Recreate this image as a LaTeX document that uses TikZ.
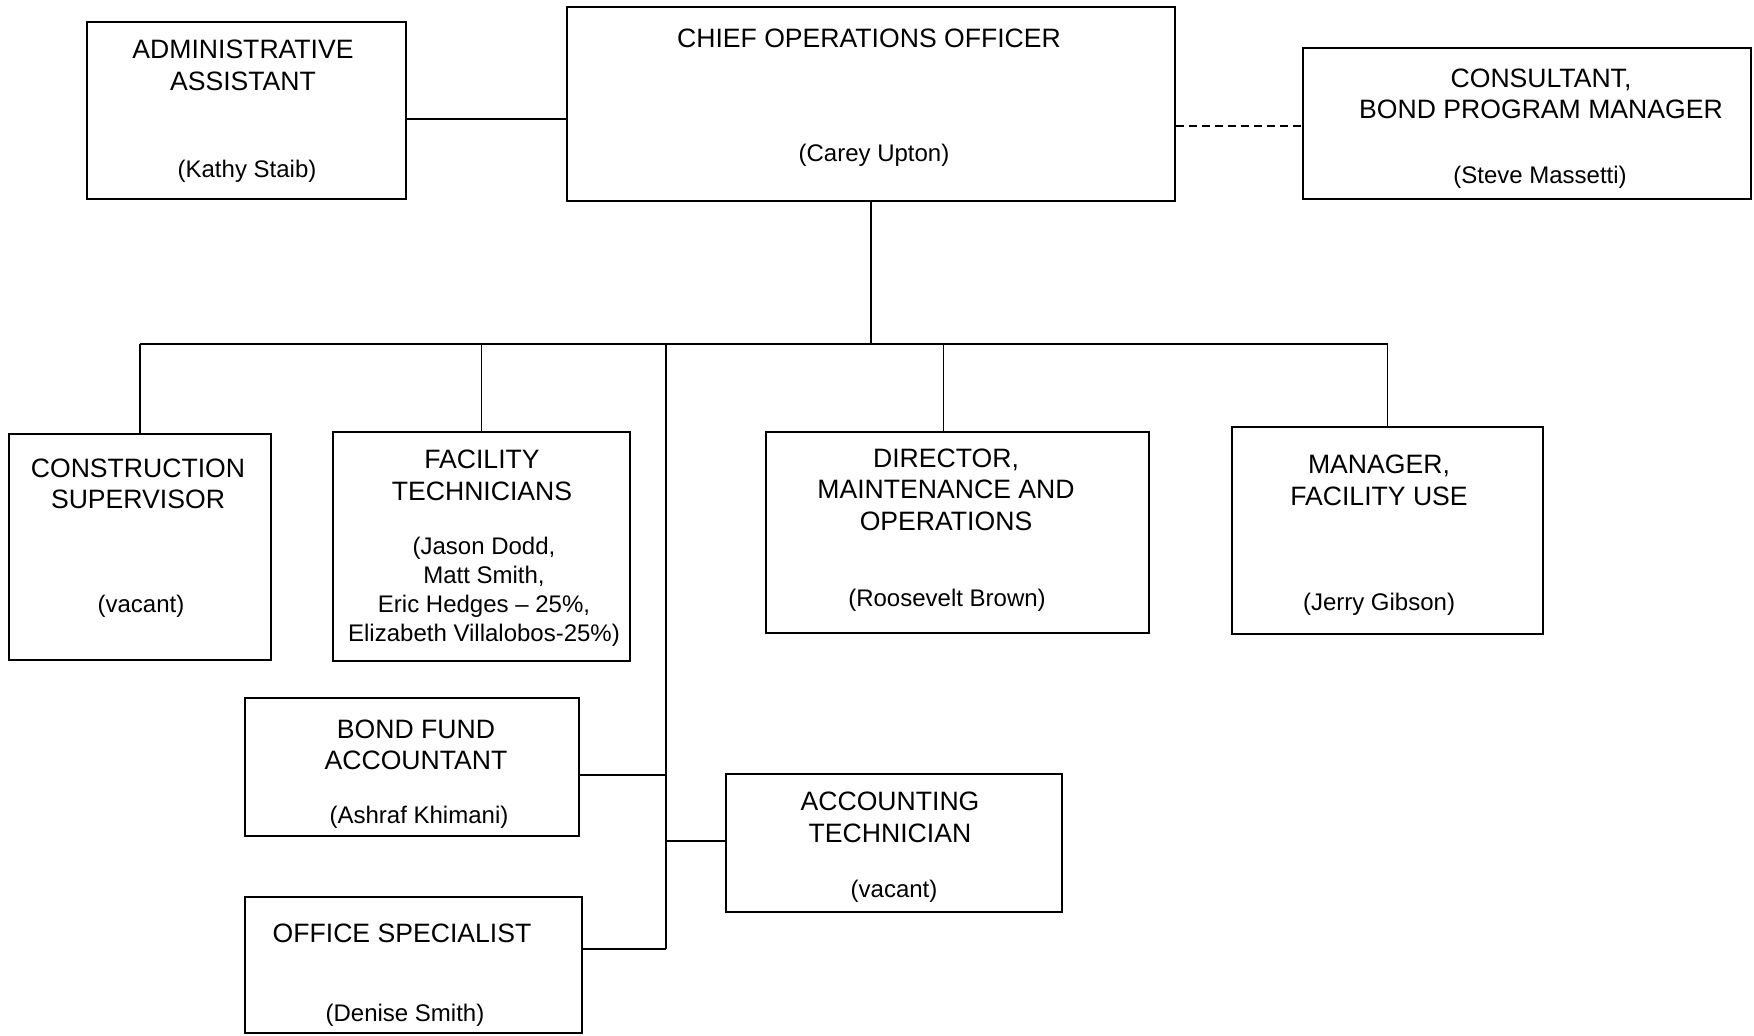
\documentclass[tikz,border=0pt]{standalone}
\usepackage{fontspec}
\setmainfont{Liberation Sans}
\usetikzlibrary{calc}

\begin{document}
\begin{tikzpicture}[x=0.5pt, y=-0.5pt,
  unit/.style={draw, line width=1pt, inner sep=0pt},
  title/.style={align=center, font=\fontsize{13.3}{15.75}\selectfont, inner sep=0pt},
  who/.style={align=center, font=\fontsize{12}{14.5}\selectfont, inner sep=0pt},
  link/.style={line width=0.8pt}]
  \useasboundingbox (0,0) rectangle (1754,1035);

  \node[unit, minimum width=159.5pt, minimum height=88.5pt] (admin) at (246.5,110.5) {};
  \node[title] (admin-t) at (243,65.5) {ADMINISTRATIVE\\ASSISTANT};
  \node[who] (admin-n) at (247,171) {(Kathy Staib)};

  \node[unit, minimum width=304pt, minimum height=97pt] (coo) at (871,104) {};
  \node[title] (coo-t) at (869,38) {CHIEF OPERATIONS OFFICER};
  \node[who] (coo-n) at (874,155) {(Carey Upton)};

  \node[unit, minimum width=224pt, minimum height=75.5pt] (bpm) at (1527,123.5) {};
  \node[title] (bpm-t) at (1541,94) {CONSULTANT,\\BOND PROGRAM MANAGER};
  \node[who] (bpm-n) at (1540,177) {(Steve Massetti)};

  \node[unit, minimum width=131pt, minimum height=113pt] (csup) at (140,547) {};
  \node[title] (csup-t) at (138,484) {CONSTRUCTION\\SUPERVISOR};
  \node[who] (csup-n) at (141,606) {(vacant)};

  \node[unit, minimum width=148.5pt, minimum height=114.5pt] (ftech) at (481.5,546.5) {};
  \node[title] (ftech-t) at (482,475.5) {FACILITY\\TECHNICIANS};
  \node[who] (ftech-n) at (484,591.5) {(Jason Dodd,\\Matt Smith,\\Eric Hedges -- 25\%,\\Elizabeth Villalobos-25\%)};

  \node[unit, minimum width=191.5pt, minimum height=100.5pt] (dmo) at (957.5,532.5) {};
  \node[title] (dmo-t) at (946,489.5) {DIRECTOR,\\MAINTENANCE AND\\OPERATIONS};
  \node[who] (dmo-n) at (947,600) {(Roosevelt Brown)};

  \node[unit, minimum width=155.5pt, minimum height=103.5pt] (mfu) at (1387.5,530.5) {};
  \node[title] (mfu-t) at (1379,480.5) {MANAGER,\\FACILITY USE};
  \node[who] (mfu-n) at (1379,604) {(Jerry Gibson)};

  \node[unit, minimum width=167pt, minimum height=69pt] (bfa) at (412,767) {};
  \node[title] (bfa-t) at (416,745) {BOND FUND\\ACCOUNTANT};
  \node[who] (bfa-n) at (419,817) {(Ashraf Khimani)};

  \node[unit, minimum width=168pt, minimum height=69pt] (atech) at (894,843) {};
  \node[title] (atech-t) at (890,817.5) {ACCOUNTING\\TECHNICIAN};
  \node[who] (atech-n) at (894,891) {(vacant)};

  \node[unit, minimum width=168.5pt, minimum height=68pt] (ospec) at (413.5,965) {};
  \node[title] (ospec-t) at (402,933) {OFFICE SPECIALIST};
  \node[who] (ospec-n) at (405,1015) {(Denise Smith)};

  \coordinate (al) at ($(admin.east)+(0,8.5)$);
  \draw[link] (al) -- (al -| coo.west);
  \coordinate (dl) at ($(bpm.west)+(0,2)$);
  \draw[link, line width=1pt, dash pattern=on 4pt off 2.5pt] (dl -| coo.east) -- (dl);

  \coordinate (bus) at ($(coo.south)+(0,142)$);
  \draw[link] (coo.south) -- (bus);
  \draw[link] (bus -| csup.north) -- (bus -| mfu.north);
  \draw[link] (bus -| csup.north) -- (csup.north);
  \draw[link] (bus -| ftech.north) -- (ftech.north);
  \coordinate (dtop) at ($(dmo.north)+(-14,0)$);
  \draw[link] (bus -| dtop) -- (dtop);
  \draw[link] (bus -| mfu.north) -- (mfu.north);

  \coordinate (trunk) at ($(bus)+(-205,0)$);
  \coordinate (bl) at ($(bfa.east)+(0,8)$);
  \coordinate (tl) at ($(atech.west)+(0,-2)$);
  \coordinate (ol) at ($(ospec.east)+(0,-16)$);
  \draw[link] (trunk) -- (trunk |- ol);
  \draw[link] (bl) -- (bl -| trunk);
  \draw[link] (tl) -- (tl -| trunk);
  \draw[link] (ol) -- (ol -| trunk);
\end{tikzpicture}
\end{document}
